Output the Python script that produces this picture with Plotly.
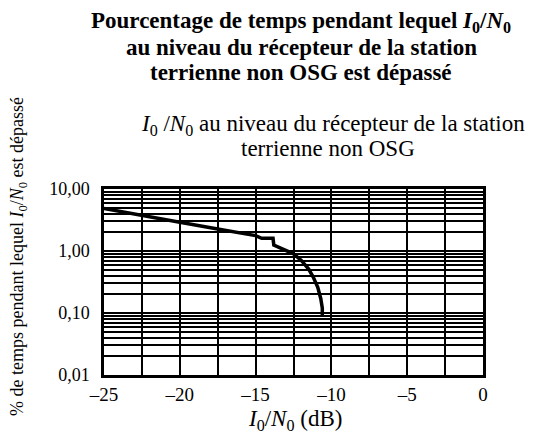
import plotly.graph_objects as go

# Data
io_no_db = [-25, -22.5, -20, -17.5, -15, -14.6, -13.85, -13.8, -13.5, -13, -12.5, -12, -11.5, -11.2, -10.9, -10.7, -10.6, -10.6]
pct_time = [4.85, 3.7, 2.9, 2.26, 1.77, 1.6, 1.6, 1.25, 1.15, 1.02, 0.9, 0.71, 0.51, 0.38, 0.26, 0.17, 0.12, 0.088]

x_tickvals = [-25, -20, -15, -10, -5, 0]
x_ticktext = ["\u201325", "\u201320", "\u201315", "\u201310", "\u20135", "0"]
y_decades = [0.01, 0.1, 1, 10]
y_decade_text = ["0,01", "0,10", "1,00", "10,00"]

title_lines = [
    "<b>Pourcentage de temps pendant lequel <i>I</i><sub>0</sub>/<i>N</i><sub>0</sub></b>",
    "<b>au niveau du récepteur de la station</b>",
    "<b>terrienne non OSG est dépassé</b>",
]
subtitle_lines = [
    "<i>I</i><sub>0</sub> /<i>N</i><sub>0</sub> au niveau du récepteur de la station",
    "terrienne non OSG",
]

y_tickvals, y_ticktext = [], []
for d, t in zip(y_decades, y_decade_text):
    y_tickvals.append(d)
    y_ticktext.append(t)
    if d < 10:
        for k in range(2, 10):
            y_tickvals.append(d * k)
            y_ticktext.append("")

FONT = "Liberation Serif, Times New Roman, serif"
W, H = 539, 440
OFF = 8  # page body margin
L, T, R, B = 104 - OFF, 189 - OFF, W - (483 - OFF), H - (375 - OFF)
PW, PH = W - L - R, H - T - B


def px(sx):
    return (sx - OFF - L) / PW


def py(sy):
    return 1 - (sy - OFF - T) / PH


fig = go.Figure()
fig.add_trace(go.Scatter(x=io_no_db, y=pct_time, mode="lines",
                         line=dict(color="black", width=3.5), showlegend=False))

annots = []
for txt, sy in zip(title_lines, [22, 47, 72]):
    annots.append(dict(text=txt, x=px(301), y=py(sy), xref="paper", yref="paper",
                       showarrow=False, xanchor="center", yanchor="middle",
                       font=dict(size=23, family=FONT)))
for txt, sx, sy in zip(subtitle_lines, [333, 328], [125, 148]):
    annots.append(dict(text=txt, x=px(sx), y=py(sy), xref="paper", yref="paper",
                       showarrow=False, xanchor="center", yanchor="middle",
                       font=dict(size=23, family=FONT)))
annots.append(dict(text="% de temps pendant lequel <i>I</i><sub>0</sub>/<i>N</i><sub>0</sub> est dépassé",
                   x=px(18), y=py(257), xref="paper", yref="paper", textangle=-90,
                   showarrow=False, xanchor="center", yanchor="middle",
                   font=dict(size=18, family=FONT)))
annots.append(dict(text="<i>I</i><sub>0</sub>/<i>N</i><sub>0</sub> (dB)",
                   x=px(295), y=py(420), xref="paper", yref="paper",
                   showarrow=False, xanchor="center", yanchor="middle",
                   font=dict(size=23, family=FONT)))

fig.update_layout(
    width=W, height=H,
    margin=dict(l=L, r=R, t=T, b=B, autoexpand=False),
    paper_bgcolor="white", plot_bgcolor="white",
    font=dict(family=FONT, color="black", size=18),
    annotations=annots,
    xaxis=dict(
        range=[-25, 0], tickvals=x_tickvals, ticktext=x_ticktext,
        showgrid=True, gridcolor="black", gridwidth=2,
        minor=dict(dtick=2.5, tick0=-25, showgrid=True, gridcolor="black", gridwidth=2),
        showline=True, linecolor="black", linewidth=2.5, mirror=True,
        ticks="", zeroline=False, tickfont=dict(size=19, family=FONT),
        ticklabelstandoff=0, automargin=False,
    ),
    yaxis=dict(
        type="log", range=[-2, 1], tickvals=y_tickvals, ticktext=y_ticktext,
        showgrid=True, gridcolor="black", gridwidth=2,
        showline=True, linecolor="black", linewidth=2.5, mirror=True,
        ticks="", tickfont=dict(size=18, family=FONT),
        ticklabelstandoff=8, automargin=False,
    ),
)

fig.write_html("out.html")
